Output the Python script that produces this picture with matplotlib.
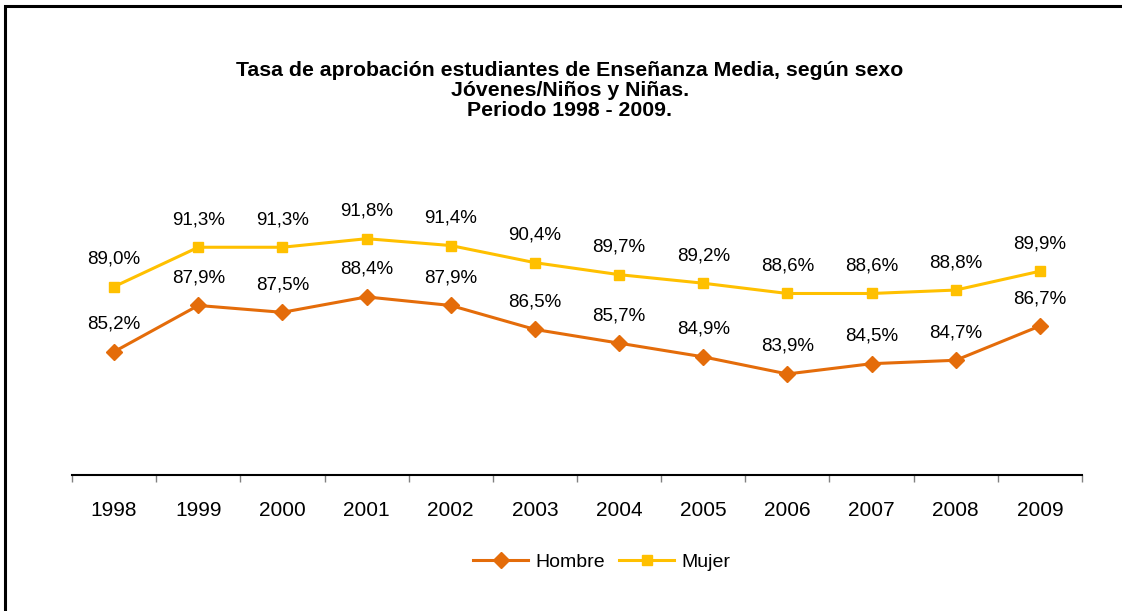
import matplotlib.pyplot as plt
from matplotlib.patches import Rectangle
from matplotlib.lines import Line2D

plt.rcParams['font.family'] = ['Liberation Sans', 'DejaVu Sans']

years = ['1998', '1999', '2000', '2001', '2002', '2003',
         '2004', '2005', '2006', '2007', '2008', '2009']
hombre = [85.2, 87.9, 87.5, 88.4, 87.9, 86.5, 85.7, 84.9, 83.9, 84.5, 84.7, 86.7]
mujer = [89.0, 91.3, 91.3, 91.8, 91.4, 90.4, 89.7, 89.2, 88.6, 88.6, 88.8, 89.9]
title_lines = ['Tasa de aprobación estudiantes de Enseñanza Media, según sexo',
               'Jóvenes/Niños y Niñas.',
               'Periodo 1998 - 2009.']

c_hombre = '#E46C0A'
c_mujer = '#FFC000'

W, H = 1122, 611
fig = plt.figure(figsize=(W / 100, H / 100), dpi=100)
ax = fig.add_axes([0.0642, 0.2226, 0.9001, 0.4484])

x = list(range(len(years)))
ax.plot(x, hombre, color=c_hombre, lw=2.2, marker='D', ms=8, label='Hombre', zorder=3)
ax.plot(x, mujer, color=c_mujer, lw=2.2, marker='s', ms=7, label='Mujer', zorder=3)

for series in (hombre, mujer):
    for xi, v in zip(x, series):
        ax.annotate(f'{v:.1f}%'.replace('.', ','), (xi, v), xytext=(0, 19.8),
                    textcoords='offset points', ha='center', va='center',
                    fontsize=13.5)

ax.set_xlim(-0.5, len(years) - 0.5)
ax.set_ylim(78, 94)
ax.set_yticks([])
for s in ['top', 'right', 'left']:
    ax.spines[s].set_visible(False)
ax.spines['bottom'].set_linewidth(1.5)

ax.set_xticks(x)
ax.set_xticklabels(years, fontsize=15)
ax.tick_params(axis='x', which='major', length=0, pad=19)
ax.set_xticks([i - 0.5 for i in range(len(years) + 1)], minor=True)
ax.tick_params(axis='x', which='minor', length=5, color='#808080', width=1)

# title, one line at a time
for line, ypx in zip(title_lines, [70, 91, 110]):
    fig.text(0.508, 1 - ypx / H, line, ha='center', va='center',
             fontsize=15.3, fontweight='bold')

handles = [Line2D([], [], color=c_hombre, lw=2.2, marker='D', ms=8),
           Line2D([], [], color=c_mujer, lw=2.2, marker='s', ms=7)]
fig.legend(handles, ['Hombre', 'Mujer'], loc='center', bbox_to_anchor=(602 / W, 1 - 562 / H),
           ncol=2, frameon=False, fontsize=14, handlelength=2.8,
           columnspacing=0.72, handletextpad=0.4)

# outer frame: left and top edges only
fig.patches.append(Rectangle((5 / W, -0.1), 1.2, 1 - 6 / H + 0.1,
                             transform=fig.transFigure, fill=False,
                             edgecolor='black', lw=2.2))

fig.savefig('out.png', dpi=100)
